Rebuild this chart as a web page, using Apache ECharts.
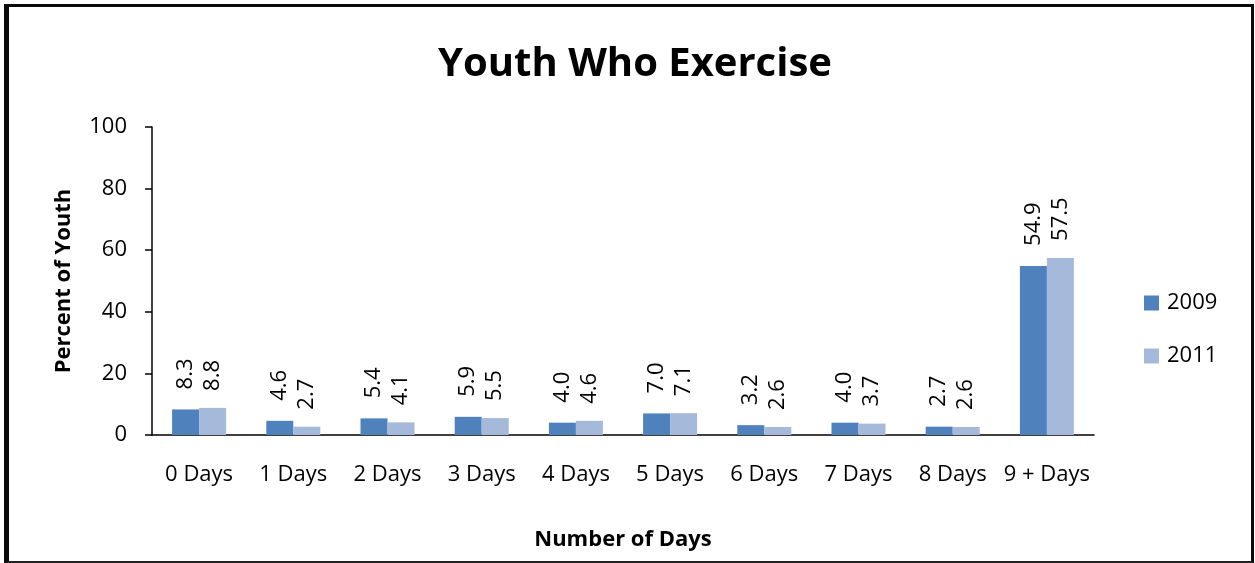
<!DOCTYPE html>
<html>
<head>
<meta charset="utf-8">
<script src="https://cdn.jsdelivr.net/npm/echarts@6/dist/echarts.min.js"></script>
<style>
  html, body { margin: 0; padding: 0; background: #fff; }
  #wrap { position: relative; width: 1255px; height: 563px; }
  #chart { position: absolute; left: 0; top: 0; width: 1255px; height: 563px; }
  #frame {
    position: absolute; left: 4px; top: 4px; right: 1px; bottom: 0px;
    border-left: 5px solid #0a0a0a; border-top: 3px solid #0a0a0a;
    border-right: 3px solid #0a0a0a; border-bottom: 2px solid #222;
    pointer-events: none;
  }
</style>
</head>
<body>
<div id="wrap">
  <div id="chart"></div>
  <div id="frame"></div>
</div>
<script>
// Share of youth by number of days they exercised
const categories = ['0 Days', '1 Days', '2 Days', '3 Days', '4 Days', '5 Days', '6 Days', '7 Days', '8 Days', '9 + Days'];
const values2009 = [8.3, 4.6, 5.4, 5.9, 4.0, 7.0, 3.2, 4.0, 2.7, 54.9];
const values2011 = [8.8, 2.7, 4.1, 5.5, 4.6, 7.1, 2.6, 3.7, 2.6, 57.5];
const yTicks = [0, 20, 40, 60, 80, 100];

const FONT = '"Open Sans", "Noto Sans", sans-serif';

const chart = echarts.init(document.getElementById('chart'), null, { renderer: 'canvas' });

function barLabel(distance) {
  return {
    show: true,
    position: 'top',
    rotate: 90,
    align: 'left',
    verticalAlign: 'middle',
    distance: distance,
    formatter: p => p.value.toFixed(1),
    fontFamily: FONT,
    fontSize: 22,
    color: '#000'
  };
}

chart.setOption({
  animation: false,
  backgroundColor: '#fff',
  title: {
    text: 'Youth Who Exercise',
    left: 630,
    top: 40,
    textAlign: 'center',
    textStyle: { fontFamily: FONT, fontSize: 40, fontWeight: 'bold', color: '#000' }
  },
  legend: {
    orient: 'vertical',
    left: 1139,
    top: 287,
    itemWidth: 15,
    itemHeight: 15,
    itemGap: 31,
    icon: 'rect',
    textStyle: { fontFamily: FONT, fontSize: 22, color: '#000', padding: [0, 0, 0, 3] },
    data: ['2009', '2011']
  },
  grid: { left: 152, right: 161, top: 127, bottom: 128, containLabel: false },
  xAxis: {
    type: 'category',
    data: categories,
    name: 'Number of Days',
    nameLocation: 'middle',
    nameGap: 94,
    nameTextStyle: { fontFamily: FONT, fontSize: 22, fontWeight: 'bold', color: '#000' },
    axisLine: { lineStyle: { color: '#000', width: 1.5 } },
    axisTick: { show: false },
    axisLabel: { fontFamily: FONT, fontSize: 22, color: '#000', margin: 29, interval: 0 }
  },
  yAxis: {
    type: 'value',
    min: yTicks[0],
    max: yTicks[yTicks.length - 1],
    interval: yTicks[1] - yTicks[0],
    name: 'Percent of Youth',
    nameLocation: 'middle',
    nameGap: 77,
    nameRotate: 90,
    nameTextStyle: { fontFamily: FONT, fontSize: 22, fontWeight: 'bold', color: '#000' },
    splitLine: { show: false },
    axisLine: { show: true, lineStyle: { color: '#000', width: 1.5 } },
    axisTick: { show: true, inside: false, length: 7, lineStyle: { color: '#000', width: 1.5 } },
    axisLabel: { fontFamily: FONT, fontSize: 22, color: '#000', margin: 25 }
  },
  series: [
    {
      name: '2009',
      type: 'bar',
      data: values2009,
      barWidth: 27,
      barGap: '0%',
      itemStyle: { color: '#4F81BD' },
      label: barLabel(20)
    },
    {
      name: '2011',
      type: 'bar',
      data: values2011,
      barWidth: 27,
      itemStyle: { color: '#A5B9DA' },
      label: barLabel(17)
    }
  ]
});
</script>
</body>
</html>
